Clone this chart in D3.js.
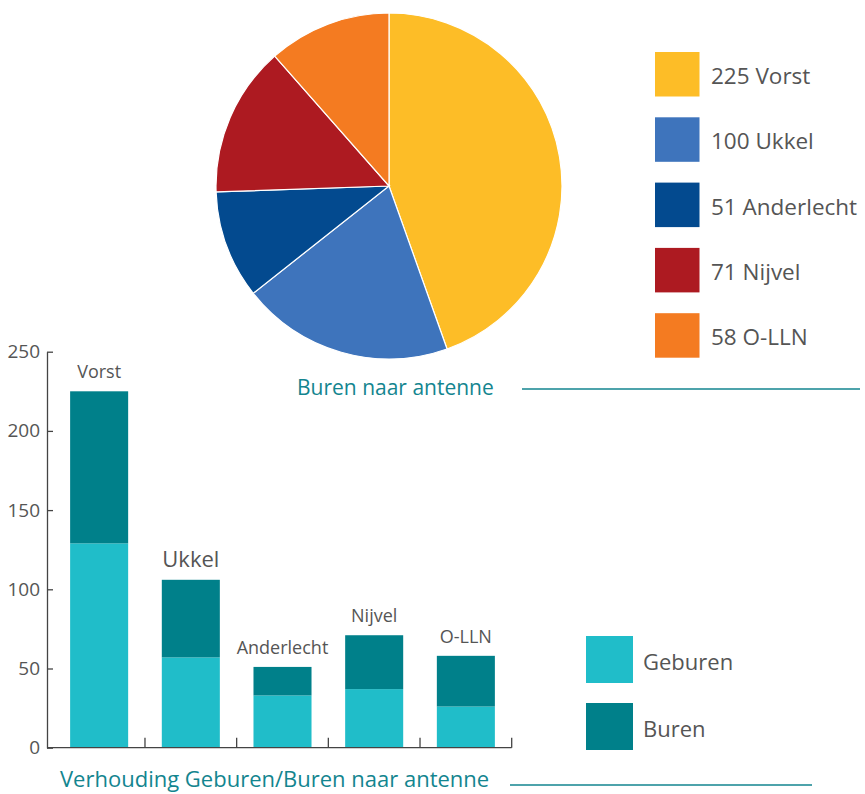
<!DOCTYPE html>
<html>
<head>
<meta charset="utf-8">
<script src="https://cdn.jsdelivr.net/npm/d3@7"></script>
<style>
  body { margin: 0; background: #fff; }
  svg { display: block; font-family: "Open Sans", sans-serif; }
</style>
</head>
<body>
<div id="chart"></div>
<script>
// Pie data: neighbours per antenna
var pieNames = ["Vorst", "Ukkel", "Anderlecht", "Nijvel", "O-LLN"];
var pieValues = [225, 100, 51, 71, 58];
var pieColors = ["#FDBD27", "#3E74BC", "#034A8F", "#AD1A21", "#F47B21"];

// Bar data: Geburen / Buren per antenna
var barNames = ["Vorst", "Ukkel", "Anderlecht", "Nijvel", "O-LLN"];
var geburen = [129, 57, 33, 37, 26];
var buren = [96, 49, 18, 34, 32];
var yTicks = [0, 50, 100, 150, 200, 250];
var seriesNames = ["Geburen", "Buren"];
var seriesColors = ["#20BDC9", "#00808A"];

var W = 865, H = 794;
var textColor = "#555";
var teal = "#13858F";

var svg = d3.select("#chart").append("svg")
  .attr("width", W)
  .attr("height", H);

// ---------- Pie ----------
var pie = d3.pie().sort(null).value(function (d) { return d; });
var arc = d3.arc().innerRadius(0).outerRadius(173);

var pg = svg.append("g").attr("transform", "translate(389,186)");
pg.selectAll("path")
  .data(pie(pieValues))
  .enter()
  .append("path")
  .attr("d", arc)
  .attr("fill", function (d, i) { return pieColors[i]; })
  .attr("stroke", "#fff")
  .attr("stroke-width", 1.2);

// pie legend
var pl = svg.append("g").attr("transform", "translate(655,52)");
var plItem = pl.selectAll("g")
  .data(pieNames)
  .enter()
  .append("g")
  .attr("transform", function (d, i) { return "translate(0," + i * 65.3 + ")"; });
plItem.append("rect")
  .attr("width", 44.5)
  .attr("height", 44.5)
  .attr("fill", function (d, i) { return pieColors[i]; });
plItem.append("text")
  .attr("x", 56)
  .attr("y", 32)
  .attr("font-size", 22.5)
  .attr("fill", textColor)
  .text(function (d, i) { return pieValues[i] + " " + d; });

// pie title
svg.append("text")
  .attr("x", 297)
  .attr("y", 395)
  .attr("font-size", 21)
  .attr("fill", teal)
  .text("Buren naar antenne");
svg.append("line")
  .attr("x1", 522).attr("x2", 860)
  .attr("y1", 389).attr("y2", 389)
  .attr("stroke", teal)
  .attr("stroke-width", 1.5);

// ---------- Stacked bars ----------
var y = d3.scaleLinear().domain([0, 250]).range([747.7, 351.7]);
var x = d3.scaleBand()
  .domain(barNames)
  .range([53.3, 511.7])
  .paddingInner(0.367)
  .paddingOuter(0.1835);

var rows = barNames.map(function (n, i) {
  return { name: n, Geburen: geburen[i], Buren: buren[i] };
});
var stack = d3.stack().keys(seriesNames)(rows);

var bg = svg.append("g");
bg.selectAll("g")
  .data(stack)
  .enter()
  .append("g")
  .attr("fill", function (d, i) { return seriesColors[i]; })
  .selectAll("rect")
  .data(function (d) { return d; })
  .enter()
  .append("rect")
  .attr("x", function (d) { return x(d.data.name); })
  .attr("y", function (d) { return y(d[1]); })
  .attr("width", x.bandwidth())
  .attr("height", function (d) { return y(d[0]) - y(d[1]); });

// labels above bars
bg.selectAll("text.lbl")
  .data(rows)
  .enter()
  .append("text")
  .attr("class", "lbl")
  .attr("x", function (d) { return x(d.name) + x.bandwidth() / 2; })
  .attr("y", function (d) { return y(d.Geburen + d.Buren) - 13; })
  .attr("text-anchor", "middle")
  .attr("font-size", function (d) { return d.name === "Ukkel" ? 22 : 18; })
  .attr("fill", textColor)
  .text(function (d) { return d.name; });

// y axis
var yAxis = d3.axisLeft(y).tickValues(yTicks).tickSize(0).tickPadding(7);
var ya = svg.append("g").attr("transform", "translate(47,0)").call(yAxis);
ya.select(".domain").attr("stroke", "#444").attr("stroke-width", 1.3);
ya.selectAll(".tick text")
  .attr("font-size", 19)
  .attr("fill", textColor)
  .attr("font-family", "Open Sans, sans-serif");
ya.selectAll(".tick").append("line")
  .attr("x1", 0).attr("x2", 6)
  .attr("stroke", "#444")
  .attr("stroke-width", 1.3);

// x axis line with boundary ticks
var step = x.step();
var bounds = barNames.map(function (n) {
  return x(n) + x.bandwidth() + (step - x.bandwidth()) / 2;
});
svg.append("line")
  .attr("x1", 47).attr("x2", bounds[bounds.length - 1])
  .attr("y1", y(0)).attr("y2", y(0))
  .attr("stroke", "#444")
  .attr("stroke-width", 1.3);
svg.selectAll("line.xt")
  .data(bounds)
  .enter()
  .append("line")
  .attr("class", "xt")
  .attr("x1", function (d) { return d; })
  .attr("x2", function (d) { return d; })
  .attr("y1", y(0))
  .attr("y2", y(0) - 10)
  .attr("stroke", "#444")
  .attr("stroke-width", 1.3);

// bar legend
var bl = svg.append("g").attr("transform", "translate(586,636)");
var blItem = bl.selectAll("g")
  .data(seriesNames)
  .enter()
  .append("g")
  .attr("transform", function (d, i) { return "translate(0," + i * 67 + ")"; });
blItem.append("rect")
  .attr("width", 47)
  .attr("height", 47)
  .attr("fill", function (d, i) { return seriesColors[i]; });
blItem.append("text")
  .attr("x", 57)
  .attr("y", 34)
  .attr("font-size", 22)
  .attr("fill", textColor)
  .text(function (d) { return d; });

// bar title
svg.append("text")
  .attr("x", 60)
  .attr("y", 787)
  .attr("font-size", 22)
  .attr("fill", teal)
  .text("Verhouding Geburen/Buren naar antenne");
svg.append("line")
  .attr("x1", 510).attr("x2", 812)
  .attr("y1", 785).attr("y2", 785)
  .attr("stroke", teal)
  .attr("stroke-width", 1.5);
</script>
</body>
</html>
